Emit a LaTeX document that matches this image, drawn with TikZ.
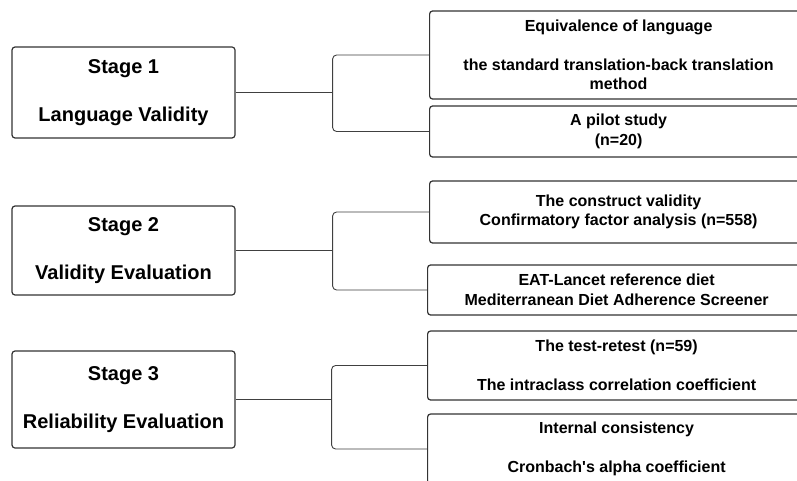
\documentclass[tikz,border=0pt]{standalone}
\usepackage{fontspec}
\setmainfont{Liberation Sans}
\usetikzlibrary{positioning}

\tikzset{
  stage/.style={draw=black!80, line width=1.2pt, rounded corners=3pt,
    minimum width=223pt, align=center,
    font=\fontsize{20}{24}\selectfont\bfseries},
  task/.style={draw=black!80, line width=1.2pt, rounded corners=3pt,
    anchor=west, minimum width=378pt, align=center,
    font=\fontsize{16}{19.5}\selectfont\bfseries},
  link/.style={draw=black!75, line width=0.9pt, rounded corners=4pt}
}

\begin{document}
\begin{tikzpicture}[x=1pt,y=-1pt]
    \useasboundingbox[fill=white] (0,0) rectangle (797,481);

    % stages
    \node[stage, minimum height=91pt] (s1) at (123.5,92.5) {Stage 1\\[24pt]Language Validity};
    \node[stage, minimum height=89pt] (s2) at (123.5,250.5) {Stage 2\\[24pt]Validity Evaluation};
    \node[stage, minimum height=97pt] (s3) at (123.5,399.5) {Stage 3\\[24pt]Reliability Evaluation};

    % tasks
    \node[task, minimum height=88pt] (t1a) at (429,55) {Equivalence of language\\[19.5pt]the standard translation-back translation\\method};
    \node[task, minimum height=51pt] (t1b) at (429,131.5) {A pilot study\\(n=20)};
    \node[task, minimum height=62pt] (t2a) at (429,212) {The construct validity\\Confirmatory factor analysis (n=558)};
    \node[task, minimum height=50pt] (t2b) at (427,290) {EAT-Lancet reference diet\\Mediterranean Diet Adherence Screener};
    \node[task, minimum height=69pt] (t3a) at (427,365.5) {The test-retest (n=59)\\[19.5pt]The intraclass correlation coefficient};
    \node[task, minimum height=70pt] (t3b) at (427,449) {Internal consistency\\[19.5pt]Cronbach\textquotesingle s alpha coefficient};

    % branches
    \path (s1.east) ++(97,0) coordinate (b1);
    \path (s2.east) ++(97,0) coordinate (b2);
    \path (s3.east) ++(96,0) coordinate (b3);

    \draw[link] (s1.east) -- (b1);
    \draw[link] (t1a.west) -| (b1) |- (t1b.west);
    \draw[link] (s2.east) -- (b2);
    \draw[link] (t2a.west) -| (b2) |- (t2b.west);
    \draw[link] (s3.east) -- (b3);
    \draw[link] (t3a.west) -| (b3) |- (t3b.west);
\end{tikzpicture}
\end{document}
